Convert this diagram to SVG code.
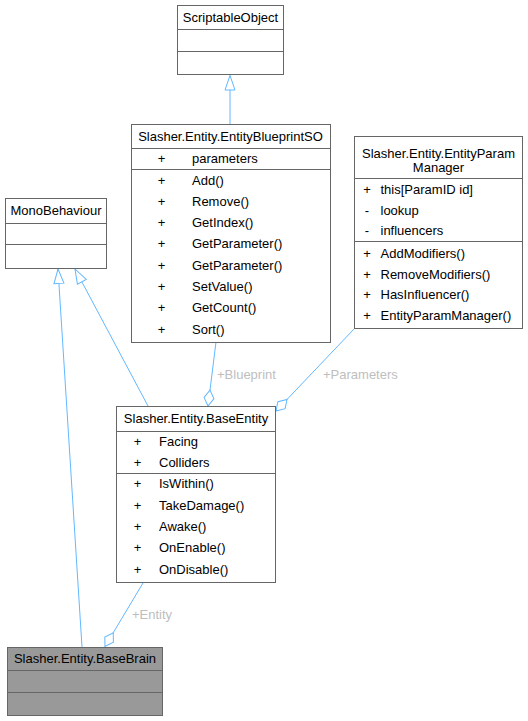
<svg xmlns="http://www.w3.org/2000/svg" width="528" height="721" viewBox="0 0 528 721">
<style>
text{font-family:"Liberation Sans",Arial,sans-serif;font-size:13px;fill:#000}
.box{fill:#fff;stroke:#666;stroke-width:1}
.gray{fill:#999}
.sep{stroke:#666;stroke-width:1}
.t{text-anchor:middle}
.pm{text-anchor:middle}
.edge{fill:none;stroke:#63b8ff;stroke-width:1}
.lbl{fill:#bebebe}
</style>
<defs>
<marker id="tri" markerUnits="userSpaceOnUse" markerWidth="18" markerHeight="12" refX="15" refY="6" orient="auto" overflow="visible">
<path d="M0.5,1 L15,6 L0.5,11 Z" fill="#fff" stroke="#63b8ff" stroke-width="1"/>
</marker>
<marker id="dia" markerUnits="userSpaceOnUse" markerWidth="18" markerHeight="12" refX="16" refY="6" orient="auto" overflow="visible">
<path d="M0,6 L8,1 L16,6 L8,11 Z" fill="#fff" stroke="#63b8ff" stroke-width="1"/>
</marker>
</defs>
<rect width="528" height="721" fill="#fff"/>
<g id="connectors">
<path class="edge" d="M230,124 L230,75.5" marker-end="url(#tri)"/>
<path class="edge" d="M148,406 L75,269" marker-end="url(#tri)"/>
<path class="edge" d="M82,647 L58,269" marker-end="url(#tri)"/>
<path class="edge" d="M216,342 L208,406" marker-end="url(#dia)"/>
<path class="edge" d="M354,329 L276,411" marker-end="url(#dia)"/>
<path class="edge" d="M143,583 L105,646.5" marker-end="url(#dia)"/>
<text class="lbl" x="217" y="378.5">+Blueprint</text>
<text class="lbl" x="323" y="378.5">+Parameters</text>
<text class="lbl" x="132" y="618.8">+Entity</text>
</g>
<g id="ScriptableObject">
<rect class="box" x="177.5" y="5.5" width="106" height="69"/>
<line class="sep" x1="177.5" y1="29.5" x2="283.5" y2="29.5"/>
<line class="sep" x1="177.5" y1="51.5" x2="283.5" y2="51.5"/>
<text class="t" x="230.5" y="21.8">ScriptableObject</text>
</g>
<g id="EntityBlueprintSO">
<rect class="box" x="131.5" y="124.5" width="199" height="218"/>
<line class="sep" x1="131.5" y1="148.5" x2="330.5" y2="148.5"/>
<line class="sep" x1="131.5" y1="169.5" x2="330.5" y2="169.5"/>
<text class="t" x="230.5" y="140.8">Slasher.Entity.EntityBlueprintSO</text>
<text class="pm" x="161.5" y="162.8">+</text><text x="192" y="162.8">parameters</text>
<text class="pm" x="161.5" y="184.5">+</text><text x="192" y="184.5">Add()</text>
<text class="pm" x="161.5" y="205.8">+</text><text x="192" y="205.8">Remove()</text>
<text class="pm" x="161.5" y="227.1">+</text><text x="192" y="227.1">GetIndex()</text>
<text class="pm" x="161.5" y="248.4">+</text><text x="192" y="248.4">GetParameter()</text>
<text class="pm" x="161.5" y="269.7">+</text><text x="192" y="269.7">GetParameter()</text>
<text class="pm" x="161.5" y="291">+</text><text x="192" y="291">SetValue()</text>
<text class="pm" x="161.5" y="312.3">+</text><text x="192" y="312.3">GetCount()</text>
<text class="pm" x="161.5" y="333.6">+</text><text x="192" y="333.6">Sort()</text>
</g>
<g id="EntityParamManager">
<rect class="box" x="354.5" y="136.5" width="168" height="192"/>
<line class="sep" x1="354.5" y1="178.5" x2="522.5" y2="178.5"/>
<line class="sep" x1="354.5" y1="241.5" x2="522.5" y2="241.5"/>
<text class="t" x="438.5" y="157.5">Slasher.Entity.EntityParam</text>
<text class="t" x="438.5" y="171.5">Manager</text>
<text class="pm" x="367" y="193.8">+</text><text x="380.5" y="193.8">this[ParamID id]</text>
<text class="pm" x="367" y="214.5">-</text><text x="380.5" y="214.5">lookup</text>
<text class="pm" x="367" y="235.2">-</text><text x="380.5" y="235.2">influencers</text>
<text class="pm" x="367" y="257.8">+</text><text x="380.5" y="257.8">AddModifiers()</text>
<text class="pm" x="367" y="278.5">+</text><text x="380.5" y="278.5">RemoveModifiers()</text>
<text class="pm" x="367" y="299.2">+</text><text x="380.5" y="299.2">HasInfluencer()</text>
<text class="pm" x="367" y="320.2">+</text><text x="380.5" y="320.2">EntityParamManager()</text>
</g>
<g id="MonoBehaviour">
<rect class="box" x="5.5" y="198.5" width="101" height="70"/>
<line class="sep" x1="5.5" y1="223.5" x2="106.5" y2="223.5"/>
<line class="sep" x1="5.5" y1="244.5" x2="106.5" y2="244.5"/>
<text class="t" x="56" y="215.3">MonoBehaviour</text>
</g>
<g id="BaseEntity">
<rect class="box" x="116.5" y="406.5" width="159" height="176"/>
<line class="sep" x1="116.5" y1="431.5" x2="275.5" y2="431.5"/>
<line class="sep" x1="116.5" y1="473.5" x2="275.5" y2="473.5"/>
<text class="t" x="196" y="423">Slasher.Entity.BaseEntity</text>
<text class="pm" x="137.5" y="446.2">+</text><text x="159" y="446.2">Facing</text>
<text class="pm" x="137.5" y="466.8">+</text><text x="159" y="466.8">Colliders</text>
<text class="pm" x="137.5" y="488.2">+</text><text x="159" y="488.2">IsWithin()</text>
<text class="pm" x="137.5" y="510">+</text><text x="159" y="510">TakeDamage()</text>
<text class="pm" x="137.5" y="531">+</text><text x="159" y="531">Awake()</text>
<text class="pm" x="137.5" y="551.8">+</text><text x="159" y="551.8">OnEnable()</text>
<text class="pm" x="137.5" y="574.3">+</text><text x="159" y="574.3">OnDisable()</text>
</g>
<g id="BaseBrain">
<rect class="box gray" x="7.5" y="647.5" width="155" height="68"/>
<line class="sep" x1="7.5" y1="670.5" x2="162.5" y2="670.5"/>
<line class="sep" x1="7.5" y1="692.5" x2="162.5" y2="692.5"/>
<text class="t" x="85" y="663">Slasher.Entity.BaseBrain</text>
</g>
</svg>
